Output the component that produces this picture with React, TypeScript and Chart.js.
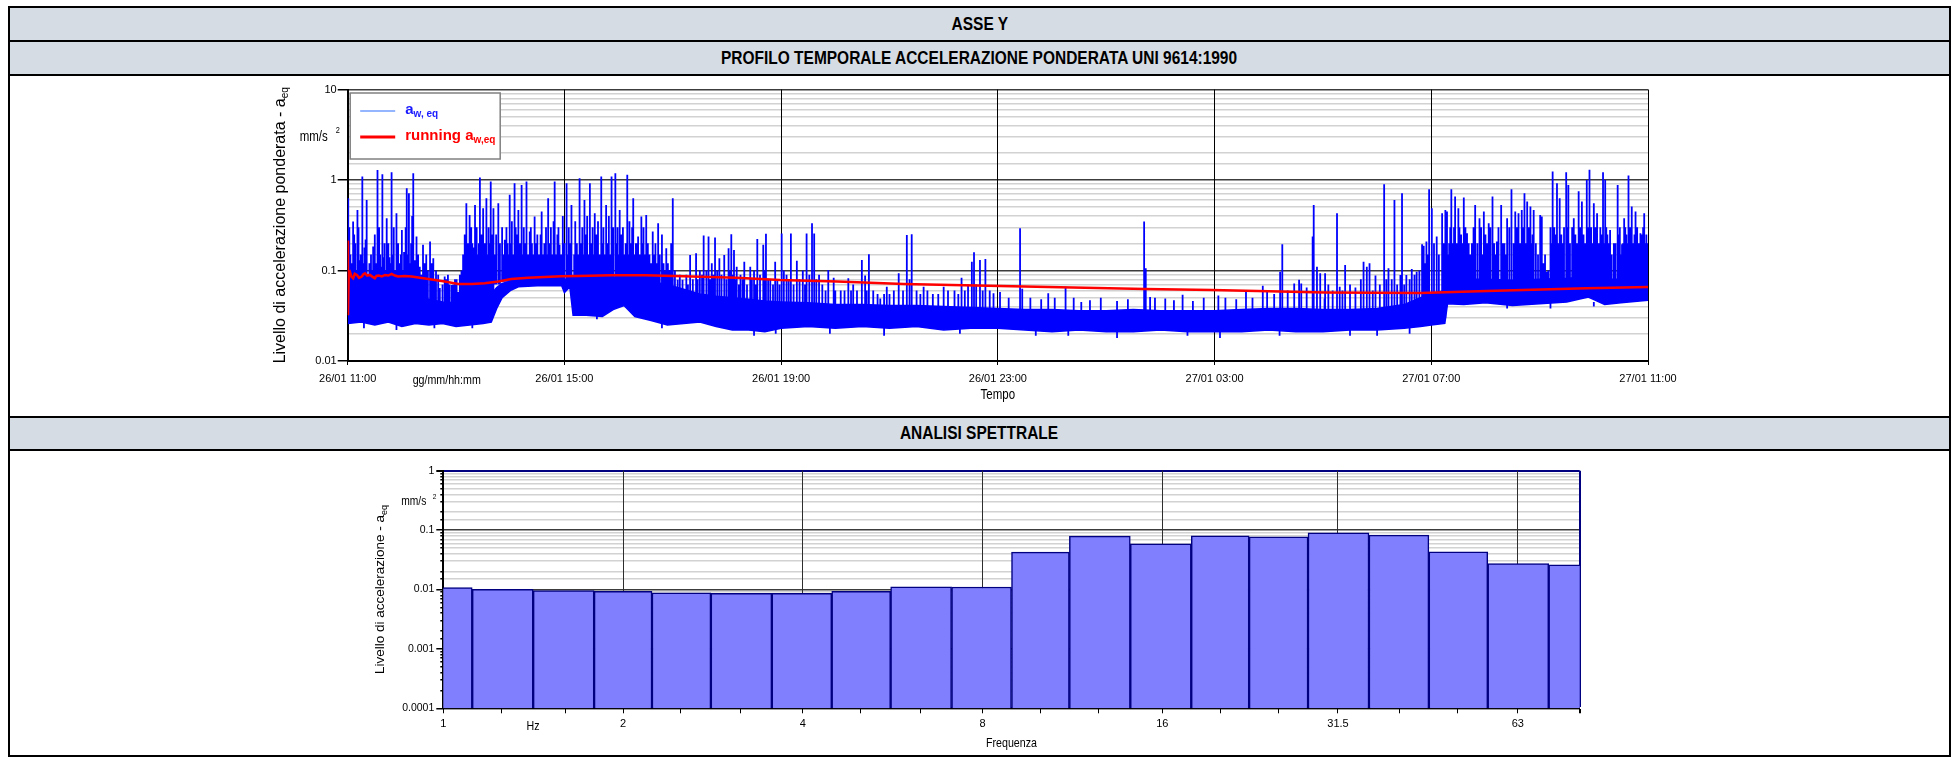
import React, { useEffect, useRef } from "react";
import { Chart, registerables } from "chart.js";
Chart.register(...registerables);

// ---------------- DATA ----------------
const timeTickLabels = ["26/01 11:00", "26/01 15:00", "26/01 19:00", "26/01 23:00", "27/01 03:00", "27/01 07:00", "27/01 11:00"];
const topYTickValues = [0.01, 0.1, 1, 10];
const topYTickLabels = ["0.01", "0.1", "1", "10"];

// envelope of the dense a_w,eq band (hours from 26/01 11:00)
const envTimes = [0, 0.25, 0.5, 0.75, 1, 1.25, 1.5, 1.75, 2, 2.25, 2.5, 2.65, 2.75, 2.85, 3.0, 3.15, 3.5, 3.95, 4.0, 4.1, 4.16, 4.4, 4.7, 4.9, 5.1, 5.3, 5.6, 5.9, 6.2, 6.5, 6.8, 7.1, 7.4, 7.7, 8, 8.5, 9, 9.5, 10, 10.5, 11, 11.5, 12, 12.5, 13, 13.5, 14, 14.5, 15, 15.5, 16, 16.5, 17, 17.5, 18, 18.5, 19, 19.5, 19.8, 20.0, 20.25, 20.3, 20.6, 21, 21.5, 22, 22.5, 22.9, 23.2, 23.5, 24];
const envLow = [0.026, 0.027, 0.025, 0.027, 0.024, 0.026, 0.025, 0.026, 0.024, 0.025, 0.026, 0.027, 0.038, 0.050, 0.060, 0.066, 0.068, 0.068, 0.057, 0.066, 0.032, 0.032, 0.031, 0.037, 0.041, 0.031, 0.028, 0.025, 0.026, 0.027, 0.024, 0.022, 0.022, 0.021, 0.023, 0.024, 0.023, 0.024, 0.023, 0.024, 0.022, 0.023, 0.023, 0.022, 0.021, 0.022, 0.021, 0.021, 0.022, 0.021, 0.021, 0.021, 0.022, 0.021, 0.021, 0.022, 0.022, 0.023, 0.024, 0.025, 0.026, 0.043, 0.042, 0.044, 0.041, 0.043, 0.045, 0.051, 0.042, 0.044, 0.047];
const envHigh = [0.06, 0.055, 0.06, 0.055, 0.05, 0.052, 0.048, 0.045, 0.044, 0.048, 0.05, 0.055, 0.065, 0.072, 0.076, 0.078, 0.079, 0.08, 0.08, 0.08, 0.085, 0.085, 0.085, 0.085, 0.085, 0.08, 0.075, 0.07, 0.062, 0.055, 0.052, 0.05, 0.048, 0.046, 0.045, 0.044, 0.042, 0.042, 0.041, 0.041, 0.04, 0.039, 0.038, 0.037, 0.037, 0.036, 0.036, 0.037, 0.036, 0.036, 0.036, 0.037, 0.038, 0.038, 0.037, 0.037, 0.038, 0.042, 0.05, 0.055, 0.06, 0.075, 0.08, 0.08, 0.078, 0.08, 0.082, 0.085, 0.08, 0.08, 0.082];

// spikes: [hour, base, peak]
const spikes: [number, number, number][] = [
  [0.01, 0.035, 0.63], [0.05, 0.035, 0.15], [0.10, 0.035, 0.347], [0.14, 0.035, 0.2], [0.18, 0.035, 0.467], [0.22, 0.035, 0.13], [0.27, 0.035, 1.09], [0.31, 0.035, 0.18], [0.35, 0.035, 0.603], [0.40, 0.035, 0.12], [0.47, 0.035, 0.184], [0.50, 0.035, 0.25], [0.55, 0.035, 1.29], [0.60, 0.035, 0.15], [0.64, 0.035, 1.16], [0.68, 0.035, 0.2], [0.72, 0.035, 0.378], [0.77, 0.035, 0.14], [0.81, 0.035, 1.22], [0.85, 0.035, 0.3], [0.90, 0.035, 0.429], [0.95, 0.035, 0.12], [1.00, 0.035, 0.281], [1.04, 0.035, 0.16], [1.09, 0.035, 0.81], [1.13, 0.035, 0.715], [1.17, 0.035, 0.2], [1.21, 0.035, 1.19], [1.24, 0.035, 0.13], [1.27, 0.035, 0.237], [1.33, 0.035, 0.11], [1.39, 0.035, 0.192], [1.45, 0.035, 0.15], [1.52, 0.035, 0.209], [1.58, 0.035, 0.137], [1.63, 0.035, 0.1], [1.70, 0.035, 0.064], [1.79, 0.035, 0.086], [1.85, 0.035, 0.09], [1.92, 0.035, 0.069], [1.98, 0.035, 0.08], [2.04, 0.035, 0.058], [2.10, 0.035, 0.1], [2.19, 0.035, 0.554], [2.25, 0.035, 0.411], [2.30, 0.035, 0.2], [2.35, 0.035, 0.531], [2.40, 0.035, 0.15], [2.44, 0.035, 1.065], [2.50, 0.035, 0.488], [2.56, 0.035, 0.629], [2.60, 0.035, 0.3], [2.64, 0.035, 0.962], [2.69, 0.035, 0.488],
  [0.03, 0.035, 0.3], [0.08, 0.035, 0.12], [0.12, 0.035, 0.25], [0.16, 0.035, 0.1], [0.20, 0.035, 0.3], [0.24, 0.035, 0.15], [0.29, 0.035, 0.12], [0.33, 0.035, 0.22], [0.38, 0.035, 0.09], [0.43, 0.035, 0.15], [0.45, 0.035, 0.1], [0.52, 0.035, 0.12], [0.58, 0.035, 0.3], [0.62, 0.035, 0.11], [0.66, 0.035, 0.14], [0.70, 0.035, 0.1], [0.75, 0.035, 0.2], [0.79, 0.035, 0.12], [0.83, 0.035, 0.15], [0.88, 0.035, 0.1], [0.93, 0.035, 0.2], [0.98, 0.035, 0.15], [1.02, 0.035, 0.1], [1.07, 0.035, 0.3], [1.11, 0.035, 0.15], [1.15, 0.035, 0.12], [1.19, 0.035, 0.4], [1.23, 0.035, 0.1], [1.30, 0.035, 0.15], [1.36, 0.035, 0.09], [1.42, 0.035, 0.12], [1.48, 0.035, 0.1], [1.55, 0.035, 0.12], [1.60, 0.035, 0.08], [1.67, 0.035, 0.09], [1.75, 0.035, 0.07], [1.82, 0.035, 0.08], [1.88, 0.035, 0.07], [1.95, 0.035, 0.07], [2.01, 0.035, 0.08], [2.07, 0.035, 0.09], [2.13, 0.035, 0.15], [2.16, 0.035, 0.25], [2.22, 0.035, 0.2], [2.28, 0.035, 0.3], [2.33, 0.035, 0.18], [2.38, 0.035, 0.3], [2.42, 0.035, 0.2], [2.47, 0.035, 0.25], [2.53, 0.035, 0.2], [2.58, 0.035, 0.15], [2.62, 0.035, 0.2], [2.67, 0.035, 0.25],
  [2.74, 0.07, 0.25], [2.78, 0.07, 0.554], [2.85, 0.075, 0.3], [2.90, 0.075, 0.218], [2.95, 0.075, 0.2], [2.99, 0.075, 0.685], [3.03, 0.075, 0.35], [3.08, 0.075, 0.922], [3.12, 0.075, 0.25], [3.15, 0.075, 0.467], [3.21, 0.075, 0.883], [3.25, 0.075, 0.3], [3.30, 0.075, 0.962], [3.36, 0.075, 0.269], [3.40, 0.075, 0.2], [3.45, 0.075, 0.394], [3.50, 0.075, 0.25], [3.58, 0.075, 0.448], [3.63, 0.075, 0.2], [3.70, 0.075, 0.629], [3.75, 0.075, 0.3], [3.82, 0.075, 0.962], [3.87, 0.075, 0.25], [3.91, 0.075, 0.192], [3.97, 0.075, 0.4], [4.04, 0.075, 0.922], [4.08, 0.075, 0.3], [4.13, 0.075, 0.531],
  [2.72, 0.07, 0.15], [2.81, 0.07, 0.2], [2.88, 0.075, 0.15], [2.93, 0.075, 0.3], [2.97, 0.075, 0.15], [3.01, 0.075, 0.2], [3.06, 0.075, 0.15], [3.10, 0.075, 0.3], [3.18, 0.075, 0.2], [3.23, 0.075, 0.15], [3.28, 0.075, 0.2], [3.33, 0.075, 0.15], [3.38, 0.075, 0.3], [3.43, 0.075, 0.15], [3.48, 0.075, 0.2], [3.53, 0.075, 0.15], [3.56, 0.075, 0.25], [3.61, 0.075, 0.15], [3.66, 0.075, 0.3], [3.68, 0.075, 0.15], [3.73, 0.075, 0.2], [3.78, 0.075, 0.15], [3.80, 0.075, 0.35], [3.85, 0.075, 0.15], [3.89, 0.075, 0.3], [3.94, 0.075, 0.15], [4.00, 0.075, 0.2], [4.06, 0.075, 0.15], [4.11, 0.075, 0.2],
  [4.20, 0.05, 0.35], [4.28, 0.05, 1.047], [4.33, 0.05, 0.3], [4.37, 0.05, 0.603], [4.42, 0.05, 0.4], [4.47, 0.05, 0.922], [4.52, 0.05, 0.3], [4.56, 0.05, 0.429], [4.62, 0.05, 0.35], [4.68, 0.05, 1.092], [4.72, 0.05, 0.3], [4.77, 0.05, 0.531], [4.82, 0.05, 0.4], [4.87, 0.05, 1.092], [4.94, 0.05, 1.19], [4.98, 0.05, 0.3], [5.02, 0.05, 0.467], [5.08, 0.05, 0.3], [5.16, 0.05, 1.14], [5.20, 0.05, 0.35], [5.27, 0.05, 0.629], [5.32, 0.05, 0.2], [5.36, 0.05, 0.237], [5.42, 0.05, 0.394], [5.46, 0.05, 0.3], [5.51, 0.05, 0.411], [5.57, 0.05, 0.15], [5.63, 0.05, 0.269], [5.68, 0.05, 0.2], [5.73, 0.05, 0.333], [5.80, 0.05, 0.25], [5.88, 0.05, 0.176], [5.94, 0.05, 0.101], [5.97, 0.05, 0.2], [6.00, 0.05, 0.629],
  [4.18, 0.05, 0.15], [4.23, 0.05, 0.2], [4.25, 0.05, 0.15], [4.30, 0.05, 0.2], [4.35, 0.05, 0.15], [4.40, 0.05, 0.25], [4.45, 0.05, 0.15], [4.50, 0.05, 0.2], [4.54, 0.05, 0.15], [4.59, 0.05, 0.25], [4.65, 0.05, 0.15], [4.70, 0.05, 0.2], [4.75, 0.05, 0.15], [4.80, 0.05, 0.2], [4.85, 0.05, 0.15], [4.90, 0.05, 0.3], [4.96, 0.05, 0.2], [5.00, 0.05, 0.15], [5.05, 0.05, 0.25], [5.11, 0.05, 0.15], [5.13, 0.05, 0.2], [5.18, 0.05, 0.15], [5.23, 0.05, 0.2], [5.25, 0.05, 0.3], [5.30, 0.05, 0.15], [5.34, 0.05, 0.2], [5.39, 0.05, 0.15], [5.44, 0.05, 0.2], [5.49, 0.05, 0.15], [5.54, 0.05, 0.2], [5.60, 0.05, 0.12], [5.65, 0.05, 0.15], [5.70, 0.05, 0.12], [5.76, 0.05, 0.15], [5.83, 0.05, 0.12], [5.86, 0.05, 0.1], [5.91, 0.05, 0.12], [6.04, 0.04, 0.1], [6.13, 0.04, 0.09],
  [6.09, 0.04, 0.079], [6.18, 0.04, 0.079], [6.25, 0.035, 0.09], [6.32, 0.035, 0.148], [6.43, 0.035, 0.155], [6.50, 0.035, 0.1], [6.57, 0.035, 0.243], [6.66, 0.035, 0.237], [6.72, 0.035, 0.12], [6.78, 0.035, 0.232], [6.86, 0.035, 0.137], [6.90, 0.035, 0.09], [6.95, 0.035, 0.148], [7.03, 0.035, 0.176], [7.08, 0.035, 0.252], [7.13, 0.035, 0.169], [7.18, 0.035, 0.110], [7.25, 0.035, 0.09], [7.32, 0.035, 0.125], [7.43, 0.035, 0.110], [7.50, 0.035, 0.1], [7.56, 0.035, 0.223], [7.67, 0.035, 0.192], [7.72, 0.035, 0.254], [7.80, 0.035, 0.08], [7.89, 0.035, 0.125], [8.01, 0.035, 0.256], [8.10, 0.035, 0.09], [8.18, 0.035, 0.256], [8.29, 0.035, 0.128], [8.40, 0.035, 0.1], [8.47, 0.035, 0.256], [8.57, 0.035, 0.333], [8.61, 0.035, 0.256], [8.70, 0.035, 0.09], [8.87, 0.035, 0.101], [8.97, 0.035, 0.083], [9.10, 0.035, 0.06], [9.24, 0.035, 0.082], [9.33, 0.035, 0.070], [9.49, 0.035, 0.131], [9.55, 0.035, 0.088], [9.62, 0.035, 0.151], [9.70, 0.035, 0.06], [9.83, 0.035, 0.049], [9.95, 0.035, 0.066], [10.00, 0.035, 0.055], [10.17, 0.035, 0.093], [10.32, 0.035, 0.247], [10.41, 0.035, 0.252], [10.50, 0.035, 0.06], [10.63, 0.035, 0.066], [10.90, 0.035, 0.055], [11.00, 0.035, 0.066], [11.20, 0.035, 0.06], [11.33, 0.035, 0.083], [11.45, 0.035, 0.07], [11.52, 0.035, 0.125], [11.56, 0.035, 0.159], [11.67, 0.035, 0.131], [11.77, 0.035, 0.134], [11.92, 0.035, 0.056],
  [6.28, 0.035, 0.07], [6.37, 0.035, 0.08], [6.46, 0.035, 0.08], [6.54, 0.035, 0.09], [6.62, 0.035, 0.1], [6.69, 0.035, 0.08], [6.75, 0.035, 0.09], [6.82, 0.035, 0.1], [6.99, 0.035, 0.08], [7.06, 0.035, 0.1], [7.10, 0.035, 0.09], [7.16, 0.035, 0.08], [7.22, 0.035, 0.07], [7.29, 0.035, 0.08], [7.37, 0.035, 0.07], [7.46, 0.035, 0.08], [7.53, 0.035, 0.07], [7.61, 0.035, 0.09], [7.70, 0.035, 0.1], [7.76, 0.035, 0.08], [7.85, 0.035, 0.07], [7.93, 0.035, 0.08], [7.97, 0.035, 0.07], [8.05, 0.035, 0.1], [8.14, 0.035, 0.08], [8.23, 0.035, 0.07], [8.34, 0.035, 0.08], [8.44, 0.035, 0.07], [8.52, 0.035, 0.09], [8.65, 0.035, 0.08], [8.76, 0.035, 0.07], [8.82, 0.035, 0.06], [9.00, 0.035, 0.06], [9.17, 0.035, 0.06], [9.29, 0.035, 0.06], [9.40, 0.035, 0.06], [9.58, 0.035, 0.06], [9.78, 0.035, 0.055], [9.90, 0.035, 0.055], [10.08, 0.035, 0.06], [10.25, 0.035, 0.06], [10.37, 0.035, 0.08], [10.57, 0.035, 0.055], [10.70, 0.035, 0.06], [10.80, 0.035, 0.055], [11.08, 0.035, 0.06], [11.27, 0.035, 0.055], [11.39, 0.035, 0.06], [11.60, 0.035, 0.07], [11.72, 0.035, 0.06], [11.85, 0.035, 0.06],
  [12.04, 0.03, 0.058], [12.41, 0.03, 0.293], [12.45, 0.03, 0.063], [12.93, 0.03, 0.056], [13.05, 0.03, 0.050], [13.25, 0.03, 0.066], [13.54, 0.03, 0.045], [14.70, 0.03, 0.347], [14.73, 0.03, 0.106], [14.81, 0.03, 0.051], [15.09, 0.03, 0.049], [15.41, 0.03, 0.054], [16.07, 0.03, 0.053], [16.58, 0.03, 0.061], [16.89, 0.03, 0.068], [16.97, 0.03, 0.058], [17.21, 0.03, 0.097], [17.25, 0.03, 0.195], [17.47, 0.03, 0.072], [17.56, 0.03, 0.079], [17.60, 0.03, 0.072], [17.81, 0.03, 0.237], [17.83, 0.03, 0.531], [17.89, 0.03, 0.110], [17.95, 0.03, 0.093], [18.03, 0.03, 0.049], [18.04, 0.03, 0.093], [18.26, 0.03, 0.429], [18.31, 0.03, 0.066], [18.41, 0.03, 0.115], [18.75, 0.03, 0.125], [18.81, 0.03, 0.110], [18.86, 0.03, 0.120], [18.97, 0.03, 0.088], [19.13, 0.03, 0.899], [19.21, 0.03, 0.106], [19.32, 0.03, 0.603], [19.43, 0.03, 0.089], [19.46, 0.03, 0.715], [19.54, 0.03, 0.089], [19.64, 0.03, 0.104], [19.73, 0.03, 0.097], [19.83, 0.03, 0.195], [19.86, 0.03, 0.188], [19.91, 0.03, 0.209], [19.96, 0.03, 0.791], [20.01, 0.03, 0.488], [20.10, 0.03, 0.237], [20.20, 0.03, 0.429], [20.26, 0.03, 0.467],
  [12.20, 0.03, 0.05], [12.60, 0.03, 0.05], [12.80, 0.03, 0.048], [13.40, 0.03, 0.05], [13.70, 0.03, 0.047], [13.90, 0.03, 0.05], [14.20, 0.03, 0.046], [14.40, 0.03, 0.048], [14.90, 0.03, 0.05], [15.25, 0.03, 0.047], [15.60, 0.03, 0.046], [15.80, 0.03, 0.05], [16.20, 0.03, 0.05], [16.40, 0.03, 0.048], [16.70, 0.03, 0.05], [17.10, 0.03, 0.055], [17.35, 0.03, 0.06], [17.70, 0.03, 0.065], [18.10, 0.03, 0.07], [18.18, 0.03, 0.06], [18.36, 0.03, 0.06], [18.50, 0.03, 0.07], [18.60, 0.03, 0.065], [18.70, 0.03, 0.08], [18.92, 0.03, 0.06], [19.05, 0.03, 0.07], [19.17, 0.03, 0.08], [19.27, 0.03, 0.08], [19.37, 0.03, 0.07], [19.50, 0.03, 0.07], [19.60, 0.03, 0.08], [19.69, 0.03, 0.09], [19.78, 0.03, 0.1], [19.88, 0.03, 0.12], [19.93, 0.03, 0.15], [20.05, 0.03, 0.2], [20.14, 0.03, 0.15], [20.23, 0.03, 0.2],
  [20.29, 0.06, 0.448], [20.33, 0.06, 0.2], [20.37, 0.06, 0.791], [20.44, 0.06, 0.656], [20.50, 0.06, 0.488], [20.55, 0.06, 0.25], [20.60, 0.06, 0.642], [20.66, 0.06, 0.258], [20.75, 0.06, 0.2], [20.81, 0.06, 0.531], [20.89, 0.06, 0.378], [20.97, 0.06, 0.448], [21.00, 0.06, 0.25], [21.06, 0.06, 0.333], [21.13, 0.06, 0.656], [21.21, 0.06, 0.209], [21.29, 0.06, 0.531], [21.35, 0.06, 0.2], [21.40, 0.06, 0.378], [21.48, 0.06, 0.791], [21.55, 0.06, 0.448], [21.61, 0.06, 0.429], [21.67, 0.06, 0.467], [21.72, 0.06, 0.715], [21.77, 0.06, 0.578], [21.83, 0.06, 0.509], [21.85, 0.06, 0.2], [21.89, 0.06, 0.467], [22.01, 0.06, 0.411], [22.04, 0.06, 0.394], [22.10, 0.06, 0.15], [22.13, 0.06, 0.097], [22.20, 0.06, 0.3], [22.24, 0.06, 1.24], [22.32, 0.06, 0.922], [22.37, 0.06, 0.629], [22.45, 0.06, 0.3], [22.49, 0.06, 1.219], [22.53, 0.06, 0.883], [22.63, 0.06, 0.378], [22.68, 0.06, 0.2], [22.72, 0.06, 0.749], [22.78, 0.06, 0.578], [22.87, 0.06, 1.003], [22.92, 0.06, 1.294], [22.95, 0.06, 0.3], [23.00, 0.06, 0.554], [23.06, 0.06, 0.429], [23.12, 0.06, 0.3], [23.17, 0.06, 1.219], [23.21, 0.06, 1.003], [23.25, 0.06, 0.25], [23.30, 0.06, 0.281], [23.37, 0.06, 0.200], [23.44, 0.06, 0.883], [23.48, 0.06, 0.3], [23.52, 0.06, 0.195], [23.56, 0.06, 0.378], [23.60, 0.06, 0.25], [23.64, 0.06, 1.12], [23.70, 0.06, 0.509], [23.77, 0.06, 0.448], [23.82, 0.06, 0.2], [23.86, 0.06, 0.258], [23.93, 0.06, 0.429], [23.97, 0.06, 0.25],
  [20.31, 0.06, 0.15], [20.35, 0.06, 0.3], [20.40, 0.06, 0.2], [20.42, 0.06, 0.3], [20.47, 0.06, 0.2], [20.52, 0.06, 0.3], [20.58, 0.06, 0.2], [20.63, 0.06, 0.3], [20.69, 0.06, 0.2], [20.72, 0.06, 0.15], [20.78, 0.06, 0.3], [20.85, 0.06, 0.2], [20.92, 0.06, 0.3], [20.95, 0.06, 0.15], [21.03, 0.06, 0.2], [21.09, 0.06, 0.3], [21.16, 0.06, 0.2], [21.19, 0.06, 0.15], [21.24, 0.06, 0.3], [21.32, 0.06, 0.2], [21.38, 0.06, 0.15], [21.44, 0.06, 0.3], [21.52, 0.06, 0.2], [21.58, 0.06, 0.3], [21.64, 0.06, 0.2], [21.70, 0.06, 0.3], [21.75, 0.06, 0.2], [21.80, 0.06, 0.3], [21.87, 0.06, 0.25], [21.93, 0.06, 0.2], [21.97, 0.06, 0.15], [22.07, 0.06, 0.12], [22.16, 0.06, 0.1], [22.22, 0.06, 0.2], [22.27, 0.06, 0.3], [22.30, 0.06, 0.25], [22.35, 0.06, 0.2], [22.40, 0.06, 0.25], [22.43, 0.06, 0.2], [22.51, 0.06, 0.3], [22.56, 0.06, 0.2], [22.60, 0.06, 0.3], [22.66, 0.06, 0.25], [22.70, 0.06, 0.2], [22.75, 0.06, 0.3], [22.81, 0.06, 0.25], [22.84, 0.06, 0.2], [22.90, 0.06, 0.3], [22.98, 0.06, 0.2], [23.03, 0.06, 0.3], [23.09, 0.06, 0.2], [23.14, 0.06, 0.25], [23.19, 0.06, 0.2], [23.23, 0.06, 0.3], [23.28, 0.06, 0.2], [23.33, 0.06, 0.15], [23.40, 0.06, 0.2], [23.46, 0.06, 0.25], [23.50, 0.06, 0.15], [23.54, 0.06, 0.2], [23.58, 0.06, 0.3], [23.62, 0.06, 0.2], [23.67, 0.06, 0.3], [23.73, 0.06, 0.2], [23.75, 0.06, 0.25], [23.80, 0.06, 0.3], [23.84, 0.06, 0.2], [23.89, 0.06, 0.25], [23.91, 0.06, 0.3], [23.95, 0.06, 0.2], [23.99, 0.06, 0.2],
];

// downward dips below the band: [hour, top, bottom]
const dips: [number, number, number][] = [
  [0.3, 0.03, 0.023], [0.9, 0.03, 0.022], [1.6, 0.03, 0.023], [2.3, 0.03, 0.023], [4.6, 0.035, 0.029], [5.8, 0.03, 0.023], [7.5, 0.025, 0.019], [7.9, 0.025, 0.02], [8.9, 0.026, 0.02], [9.9, 0.026, 0.019], [11.3, 0.025, 0.02], [12.7, 0.025, 0.019], [13.3, 0.024, 0.019], [14.2, 0.024, 0.018], [15.5, 0.024, 0.019], [16.1, 0.024, 0.018], [17.2, 0.024, 0.019], [18.5, 0.024, 0.019], [19.0, 0.024, 0.019], [19.6, 0.025, 0.02], [21.4, 0.045, 0.038], [22.2, 0.045, 0.038], [23.0, 0.045, 0.04],
];

// running a_w,eq
const runTimes = [0, 0.005, 0.02, 0.04, 0.07, 0.10, 0.13, 0.17, 0.21, 0.26, 0.29, 0.32, 0.36, 0.41, 0.46, 0.50, 0.53, 0.57, 0.63, 0.69, 0.75, 0.81, 0.87, 0.93, 1.05, 1.18, 1.49, 1.79, 2.04, 2.29, 2.53, 2.78, 3.02, 3.33, 3.64, 3.94, 4.25, 4.87, 5.48, 6.03, 7.18, 7.98, 9.03, 10.26, 12.04, 14.72, 15.95, 18.04, 19.80, 21.03, 22.87, 24];
const runValues = [0.215, 0.032, 0.095, 0.0972, 0.085, 0.082, 0.092, 0.0893, 0.083, 0.0857, 0.091, 0.0932, 0.088, 0.0893, 0.085, 0.082, 0.087, 0.0879, 0.086, 0.0893, 0.088, 0.0916, 0.088, 0.0857, 0.087, 0.0857, 0.0807, 0.0754, 0.071, 0.071, 0.0722, 0.0754, 0.0807, 0.0834, 0.0849, 0.0863, 0.0871, 0.0886, 0.0886, 0.0871, 0.0834, 0.0786, 0.0754, 0.071, 0.0675, 0.0625, 0.061, 0.0573, 0.0563, 0.0595, 0.0636, 0.0658];

// spectrum (1/3 octave bands)
const bandFreqs = [1, 1.25, 1.6, 2, 2.5, 3.15, 4, 5, 6.3, 8, 10, 12.5, 16, 20, 25, 31.5, 40, 50, 63, 80];
const bandValues = [0.0108, 0.0101, 0.0096, 0.0093, 0.0088, 0.0086, 0.0086, 0.0093, 0.0111, 0.0110, 0.0427, 0.0793, 0.0588, 0.080, 0.077, 0.090, 0.0824, 0.0431, 0.0274, 0.026];
const freqTickValues = [1, 2, 4, 8, 16, 31.5, 63];
const freqTickLabels = ["1", "2", "4", "8", "16", "31.5", "63"];
const botYTickValues = [0.0001, 0.001, 0.01, 0.1, 1];
const botYTickLabels = ["0.0001", "0.001", "0.01", "0.1", "1"];

// ---------------- HELPERS ----------------
const SANS = "'Liberation Sans', Arial, sans-serif";

const isDecade = (v: number) => Math.abs(Math.log10(v) - Math.round(Math.log10(v))) < 1e-6;
const labelFor = (v: number, vals: number[], labels: string[]) => {
  const i = vals.findIndex((x) => Math.abs(x - v) / x < 1e-6);
  return i >= 0 ? labels[i] : "";
};

function drawCondensed(ctx: CanvasRenderingContext2D, text: string, x: number, y: number, size: number, align: "left" | "center" | "right", sx = 0.82) {
  ctx.save();
  ctx.font = `${size}px ${SANS}`;
  ctx.fillStyle = "#000";
  ctx.textBaseline = "middle";
  ctx.textAlign = align;
  ctx.translate(x, y);
  ctx.scale(sx, 1);
  ctx.fillText(text, 0, 0);
  ctx.restore();
}

function drawRotatedSub(ctx: CanvasRenderingContext2D, cx: number, cy: number, main: string, sub: string, size: number, subSize: number) {
  ctx.save();
  ctx.translate(cx, cy);
  ctx.rotate(-Math.PI / 2);
  ctx.font = `${size}px ${SANS}`;
  const w1 = ctx.measureText(main).width;
  ctx.font = `${subSize}px ${SANS}`;
  const w2 = ctx.measureText(sub).width;
  const start = -(w1 + w2) / 2;
  ctx.fillStyle = "#000";
  ctx.textBaseline = "middle";
  ctx.textAlign = "left";
  ctx.font = `${size}px ${SANS}`;
  ctx.fillText(main, start, 0);
  ctx.font = `${subSize}px ${SANS}`;
  ctx.fillText(sub, start + w1, size * 0.3);
  ctx.restore();
}

function drawSubText(ctx: CanvasRenderingContext2D, x: number, y: number, main: string, sub: string, size: number, subSize: number, color: string) {
  ctx.save();
  ctx.fillStyle = color;
  ctx.textBaseline = "middle";
  ctx.textAlign = "left";
  ctx.font = `bold ${size}px ${SANS}`;
  ctx.fillText(main, x, y);
  const w = ctx.measureText(main).width;
  ctx.font = `bold ${subSize}px ${SANS}`;
  ctx.fillText(sub, x + w, y + size * 0.3);
  ctx.restore();
}

// ---------------- TOP CHART ----------------
function TopChart() {
  const ref = useRef<HTMLCanvasElement | null>(null);
  useEffect(() => {
    const spikeData: { x: number; y: number | null }[] = [];
    [...spikes, ...dips].forEach(([t, b, p]) => {
      spikeData.push({ x: t, y: b }, { x: t, y: p }, { x: t, y: null });
    });
    const decor = {
      id: "topDecor",
      afterDraw(chart: any) {
        const { ctx, chartArea: a } = chart;
        drawRotatedSub(ctx, a.left - 67, (a.top + a.bottom) / 2, "Livello di accelerazione ponderata - a", "eq", 16, 10);
        drawCondensed(ctx, "mm/s", a.left - 20, a.top + 48, 14, "right");
        drawCondensed(ctx, "2", a.left - 12, a.top + 41, 9, "left");
        drawCondensed(ctx, "gg/mm/hh:mm", a.left + 99, a.bottom + 19, 13, "center");
        drawCondensed(ctx, "Tempo", (a.left + a.right) / 2, a.bottom + 34, 14, "center");
        // legend
        ctx.save();
        const lx = a.left + 2.5, ly = a.top + 3.5, lw = 150, lh = 66;
        ctx.fillStyle = "#fff";
        ctx.fillRect(lx, ly, lw, lh);
        ctx.strokeStyle = "#808080";
        ctx.lineWidth = 1.5;
        ctx.strokeRect(lx, ly, lw, lh);
        ctx.strokeStyle = "#2a6cff";
        ctx.lineWidth = 1;
        ctx.beginPath();
        ctx.moveTo(lx + 10, ly + 18);
        ctx.lineTo(lx + 45, ly + 18);
        ctx.stroke();
        ctx.strokeStyle = "#ff0000";
        ctx.lineWidth = 3;
        ctx.beginPath();
        ctx.moveTo(lx + 10, ly + 44);
        ctx.lineTo(lx + 45, ly + 44);
        ctx.stroke();
        ctx.restore();
        drawSubText(ctx, lx + 55, ly + 17, "a", "w, eq", 15, 10, "#1a1aff");
        drawSubText(ctx, lx + 55, ly + 43, "running a", "w,eq", 15, 10, "#ff0000");
      },
    };
    const chart = new Chart(ref.current as HTMLCanvasElement, {
      type: "line",
      data: {
        datasets: [
          {
            label: "running",
            data: runTimes.map((t, i) => ({ x: t, y: runValues[i] })),
            borderColor: "#ff0000",
            borderWidth: 2.5,
            pointRadius: 0,
            fill: false,
          },
          {
            label: "spikes",
            data: spikeData as any,
            borderColor: "#0000ff",
            borderWidth: 1.8,
            pointRadius: 0,
            spanGaps: false,
            fill: false,
          },
          {
            label: "low",
            data: envTimes.map((t, i) => ({ x: t, y: envLow[i] })),
            borderColor: "#0000ff",
            borderWidth: 1.5,
            pointRadius: 0,
            fill: false,
          },
          {
            label: "high",
            data: envTimes.map((t, i) => ({ x: t, y: envHigh[i] })),
            borderColor: "#0000ff",
            borderWidth: 1.5,
            backgroundColor: "#0000ff",
            pointRadius: 0,
            fill: 2,
          },
        ],
      },
      options: {
        animation: false,
        responsive: false,
        devicePixelRatio: 1,
        layout: { padding: { left: 0, right: 52, top: 9.5, bottom: 0 } },
        plugins: { legend: { display: false }, tooltip: { enabled: false } },
        scales: {
          y: {
            type: "logarithmic",
            min: 0.01,
            max: 10,
            afterFit: (s: any) => { s.width = 97.7; },
            border: { color: "#000", width: 2 },
            grid: {
              color: (c: any) => (c.tick && isDecade(c.tick.value) ? "#3c3c3c" : "#d2d2d2"),
              lineWidth: 1.5,
              tickLength: 10,
              tickColor: (c: any) => (c.tick && isDecade(c.tick.value) ? "#000" : "rgba(0,0,0,0)"),
            },
            ticks: {
              autoSkip: false,
              padding: 1,
              color: "#000",
              font: { family: SANS, size: 11 },
              callback: (v: any) => labelFor(Number(v), topYTickValues, topYTickLabels),
            },
          },
          x: {
            type: "linear",
            min: 0,
            max: 24,
            afterFit: (s: any) => { s.height = 49; },
            border: { color: "#000", width: 2 },
            grid: { color: "#000", lineWidth: 1, tickLength: 4, tickColor: "#000" },
            ticks: {
              stepSize: 4,
              autoSkip: false,
              maxRotation: 0,
              padding: 7,
              color: "#000",
              font: { family: SANS, size: 11 },
              callback: (v: any) => timeTickLabels[Math.round(Number(v) / 4)] ?? "",
            },
          },
        },
      } as any,
      plugins: [decor],
    });
    return () => chart.destroy();
  }, []);
  return <canvas ref={ref} width={1450} height={330} style={{ position: "absolute", left: 250, top: 80, width: 1450, height: 330 }} />;
}

// ---------------- BOTTOM CHART ----------------
function BottomChart() {
  const ref = useRef<HTMLCanvasElement | null>(null);
  useEffect(() => {
    const decor = {
      id: "botDecor",
      afterDraw(chart: any) {
        const { ctx, chartArea: a, scales } = chart;
        drawRotatedSub(ctx, a.left - 62.6, (a.top + a.bottom) / 2, "Livello di accelerazione - a", "eq", 13.5, 9);
        drawCondensed(ctx, "mm/s", a.left - 17, a.top + 31, 12.5, "right");
        drawCondensed(ctx, "2", a.left - 10.5, a.top + 26, 8, "left");
        drawCondensed(ctx, "Hz", scales.x.getPixelForValue(1.414), a.bottom + 18, 13, "center");
        drawCondensed(ctx, "Frequenza", (a.left + a.right) / 2, a.bottom + 35, 13, "center");
      },
    };
    const chart = new Chart(ref.current as HTMLCanvasElement, {
      type: "bar",
      data: {
        datasets: [
          {
            data: bandFreqs.map((f, i) => ({ x: f, y: bandValues[i] })),
            backgroundColor: "#8080ff",
            borderColor: "#000080",
            borderWidth: 1.5,
            barThickness: "flex",
            categoryPercentage: 1,
            barPercentage: 1,
          },
        ],
      },
      options: {
        animation: false,
        responsive: false,
        devicePixelRatio: 1,
        layout: { padding: { left: 0, right: 50.3, top: 15.7, bottom: 0 } },
        plugins: { legend: { display: false }, tooltip: { enabled: false } },
        scales: {
          y: {
            type: "logarithmic",
            min: 0.0001,
            max: 1,
            afterFit: (s: any) => { s.width = 113.3; },
            border: { color: "#000", width: 2 },
            grid: {
              color: (c: any) => {
                const v = c.tick ? c.tick.value : 0;
                if (Math.abs(v - 1) < 1e-9) return "#000080";
                return isDecade(v) ? "#3c3c3c" : "#d2d2d2";
              },
              lineWidth: (c: any) => (c.tick && Math.abs(c.tick.value - 1) < 1e-9 ? 2 : 1.5),
              tickLength: 7,
              tickColor: "#000",
              tickBorderDash: (c: any) => (c.tick && isDecade(c.tick.value) ? [] : [0, 4, 3, 50]),
            },
            ticks: {
              autoSkip: false,
              padding: 2,
              color: "#000",
              font: { family: SANS, size: 10.5 },
              callback: (v: any) => labelFor(Number(v), botYTickValues, botYTickLabels),
            },
          },
          x: {
            type: "logarithmic",
            min: 1,
            max: 80,
            offset: false,
            afterFit: (s: any) => { s.height = 46.7; },
            afterBuildTicks: (s: any) => { s.ticks = bandFreqs.map((v) => ({ value: v })); },
            border: { color: "#000", width: 2 },
            grid: {
              offset: false,
              color: (c: any) => {
                const v = c.tick ? c.tick.value : 0;
                if (Math.abs(v - 80) < 1e-6) return "#000080";
                return labelFor(v, freqTickValues, freqTickLabels) && v !== 1 ? "#2e2e2e" : "rgba(0,0,0,0)";
              },
              lineWidth: (c: any) => (c.tick && Math.abs(c.tick.value - 80) < 1e-6 ? 2 : 1),
              tickLength: 5,
              tickColor: "#000",
            },
            ticks: {
              autoSkip: false,
              maxRotation: 0,
              padding: 4,
              color: "#000",
              font: { family: SANS, size: 11 },
              callback: (v: any) => labelFor(Number(v), freqTickValues, freqTickLabels),
            },
          },
        },
      } as any,
      plugins: [decor],
    });
    return () => chart.destroy();
  }, []);
  return <canvas ref={ref} width={1300} height={300} style={{ position: "absolute", left: 330, top: 455, width: 1300, height: 300 }} />;
}

// ---------------- PAGE ----------------
const hdrStyle = (top: number, height: number): React.CSSProperties => ({
  position: "absolute",
  left: 10,
  top,
  width: 1939,
  height,
  background: "#d6dce4",
  display: "flex",
  alignItems: "center",
  justifyContent: "center",
  fontFamily: SANS,
  fontWeight: 700,
  fontSize: 18,
  color: "#000",
});
const hdrText: React.CSSProperties = { display: "inline-block", transform: "scaleX(0.86)", whiteSpace: "nowrap" };
const hline = (top: number): React.CSSProperties => ({ position: "absolute", left: 8, top, width: 1943, height: 2, background: "#000" });

export default function App() {
  return (
    <div style={{ position: "absolute", left: 0, top: 0, width: 1953, height: 765, background: "#fff", overflow: "hidden" }}>
      <div style={hdrStyle(8, 32)}><span style={hdrText}>ASSE Y</span></div>
      <div style={hdrStyle(42, 32)}><span style={hdrText}>PROFILO TEMPORALE ACCELERAZIONE PONDERATA UNI 9614:1990</span></div>
      <div style={hdrStyle(417.5, 31.5)}><span style={hdrText}>ANALISI SPETTRALE</span></div>
      <div style={hline(6)} />
      <div style={hline(40)} />
      <div style={hline(74)} />
      <div style={hline(415.5)} />
      <div style={hline(449)} />
      <div style={hline(755)} />
      <div style={{ position: "absolute", left: 8, top: 6, width: 2, height: 751, background: "#000" }} />
      <div style={{ position: "absolute", left: 1949, top: 6, width: 2, height: 751, background: "#000" }} />
      <TopChart />
      <BottomChart />
    </div>
  );
}
